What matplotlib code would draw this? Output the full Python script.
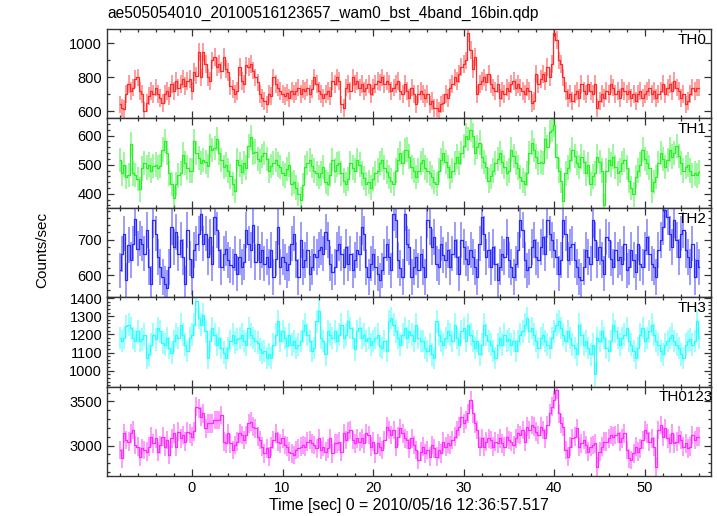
import numpy as np
import matplotlib
matplotlib.use("Agg")
import matplotlib.pyplot as plt
from matplotlib.ticker import MultipleLocator

plt.rcParams['font.family'] = ['Liberation Sans', 'DejaVu Sans']

# time bins (s), 0.25 s resolution
t_start, t_step, n_pts = -8.0, 0.25, 257

th0 = [
    640, 620, 615, 700, 760, 720, 740, 790, 800, 720, 700, 600, 650, 690, 720, 700,
    740, 700, 680, 650, 700, 720, 690, 760, 720, 780, 740, 760, 790, 750, 780, 790,
    720, 830, 810, 950, 800, 950, 880, 800, 780, 900, 920, 860, 880, 840, 920, 850,
    830, 750, 730, 700, 720, 860, 780, 760, 870, 860, 880, 840, 800, 770, 700, 680,
    660, 640, 700, 690, 800, 760, 740, 720, 700, 690, 710, 680, 720, 700, 720, 740,
    700, 730, 720, 740, 700, 730, 800, 760, 720, 700, 680, 700, 720, 690, 780, 760,
    800, 780, 640, 620, 740, 760, 720, 800, 760, 780, 740, 760, 720, 740, 760, 700,
    740, 760, 780, 770, 800, 760, 780, 760, 720, 740, 760, 780, 720, 700, 760, 720,
    680, 740, 700, 640, 700, 720, 700, 680, 700, 640, 660, 620, 620, 600, 640, 650,
    700, 680, 740, 760, 800, 780, 820, 860, 880, 900, 1060, 960, 850, 920, 700, 760,
    780, 800, 770, 820, 760, 740, 720, 760, 680, 720, 700, 740, 720, 760, 780, 740,
    760, 740, 720, 700, 740, 720, 650, 660, 820, 760, 790, 820, 780, 860, 800, 880,
    1060, 1020, 900, 880, 800, 720, 680, 700, 660, 700, 720, 680, 760, 720, 700, 760,
    720, 700, 760, 620, 660, 700, 680, 720, 700, 760, 740, 700, 720, 680, 740, 720,
    700, 720, 680, 700, 660, 700, 720, 680, 700, 720, 740, 700, 720, 680, 700, 720,
    760, 700, 740, 760, 720, 780, 740, 720, 680, 700, 640, 660, 700, 740, 720, 740,
    740]

th1 = [
    517, 470, 500, 457, 465, 570, 470, 465, 450, 415, 487, 505, 490, 500, 480, 495,
    500, 490, 495, 552, 582, 540, 470, 433, 385, 433, 463, 470, 535, 505, 490, 480,
    480, 582, 540, 523, 505, 517, 510, 495, 564, 550, 558, 588, 540, 517, 493, 500,
    480, 460, 433, 410, 517, 500, 475, 505, 490, 564, 594, 540, 545, 520, 511, 530,
    540, 520, 480, 495, 505, 517, 500, 493, 470, 463, 485, 500, 433, 440, 421, 400,
    380, 430, 493, 505, 517, 495, 480, 470, 457, 470, 493, 440, 433, 465, 517, 480,
    500, 505, 470, 445, 433, 450, 505, 490, 480, 517, 500, 470, 455, 433, 440, 421,
    450, 470, 480, 505, 517, 490, 475, 457, 445, 433, 480, 517, 540, 505, 550, 552,
    528, 493, 480, 457, 480, 505, 517, 490, 480, 470, 457, 440, 433, 480, 517, 540,
    510, 493, 457, 480, 505, 528, 505, 540, 564, 600, 588, 620, 600, 540, 560, 576,
    528, 510, 493, 445, 460, 480, 505, 520, 540, 510, 493, 470, 480, 552, 530, 505,
    490, 457, 445, 433, 470, 540, 576, 550, 528, 505, 510, 505, 588, 560, 612, 620,
    636, 528, 480, 445, 374, 470, 490, 517, 552, 530, 505, 493, 528, 510, 470, 500,
    433, 460, 470, 528, 510, 480, 362, 480, 517, 500, 528, 493, 470, 480, 505, 517,
    490, 445, 420, 398, 457, 480, 500, 552, 520, 505, 490, 410, 440, 457, 505, 540,
    520, 493, 517, 552, 528, 540, 564, 530, 505, 480, 493, 500, 480, 463, 470, 463,
    475]

th2 = [
    614, 660, 717, 586, 684, 642, 689, 759, 675, 703, 689, 661, 726, 623, 577, 754,
    717, 651, 623, 595, 577, 565, 623, 736, 679, 722, 661, 698, 651, 577, 726, 647,
    595, 670, 689, 717, 773, 689, 717, 651, 707, 633, 764, 726, 670, 623, 661, 675,
    642, 628, 623, 661, 605, 651, 623, 637, 726, 689, 670, 740, 637, 689, 637, 670,
    633, 651, 623, 670, 595, 647, 736, 623, 651, 637, 614, 633, 689, 717, 642, 595,
    698, 623, 642, 670, 605, 623, 661, 651, 670, 679, 661, 722, 698, 633, 609, 623,
    670, 689, 661, 623, 679, 633, 661, 614, 642, 670, 661, 736, 717, 623, 595, 633,
    661, 623, 605, 586, 614, 651, 689, 651, 614, 773, 754, 642, 620, 595, 773, 689,
    679, 595, 623, 651, 614, 661, 623, 595, 754, 736, 679, 707, 633, 623, 689, 656,
    642, 670, 623, 661, 698, 651, 605, 698, 679, 647, 633, 670, 651, 623, 595, 689,
    764, 717, 651, 670, 623, 679, 633, 586, 623, 661, 651, 707, 642, 623, 595, 633,
    670, 754, 726, 642, 614, 623, 679, 698, 651, 642, 679, 707, 661, 754, 717, 698,
    670, 651, 605, 642, 754, 717, 642, 679, 689, 642, 623, 595, 586, 623, 670, 651,
    633, 754, 698, 642, 679, 642, 605, 707, 698, 647, 623, 670, 642, 651, 633, 689,
    614, 623, 670, 642, 609, 689, 633, 623, 670, 707, 661, 633, 623, 595, 670, 698,
    736, 782, 764, 717, 679, 754, 698, 651, 717, 726, 670, 651, 623, 689, 595, 642,
    623]

th3 = [
    1181, 1163, 1181, 1245, 1254, 1236, 1181, 1163, 1217, 1163, 1172, 1199, 1071, 1090, 1144, 1199,
    1172, 1236, 1217, 1154, 1144, 1181, 1126, 1099, 1163, 1199, 1181, 1254, 1199, 1144, 1108, 1181,
    1199, 1254, 1382, 1290, 1254, 1309, 1217, 1071, 1163, 1236, 1199, 1144, 1181, 1126, 1099, 1071,
    1126, 1163, 1199, 1154, 1172, 1181, 1199, 1163, 1144, 1236, 1199, 1181, 1163, 1154, 1117, 1099,
    1108, 1071, 1090, 1071, 1144, 1199, 1272, 1163, 1217, 1181, 1135, 1199, 1144, 1163, 1126, 1144,
    1163, 1217, 1254, 1199, 1163, 1108, 1126, 1272, 1327, 1181, 1163, 1090, 1217, 1199, 1181, 1217,
    1163, 1199, 1254, 1181, 1199, 1272, 1236, 1181, 1117, 1217, 1236, 1181, 1199, 1163, 1181, 1144,
    1163, 1181, 1199, 1135, 1126, 1163, 1108, 1272, 1290, 1254, 1217, 1181, 1144, 1199, 1236, 1181,
    1217, 1199, 1163, 1254, 1181, 1163, 1163, 1126, 1108, 1144, 1090, 1071, 1272, 1199, 1163, 1144,
    1181, 1217, 1199, 1163, 1254, 1181, 1144, 1217, 1236, 1163, 1254, 1199, 1163, 1126, 1163, 1090,
    1144, 1254, 1199, 1163, 1144, 1108, 1071, 1144, 1181, 1144, 1199, 1163, 1172, 1144, 1163, 1108,
    1163, 1199, 1217, 1254, 1290, 1217, 1236, 1199, 1163, 1126, 1181, 1199, 1163, 1144, 1126, 1181,
    1217, 1254, 1272, 1236, 1199, 1163, 1217, 1181, 1144, 1126, 1090, 1254, 1199, 1144, 1163, 1126,
    1090, 1144, 980, 1181, 1163, 1217, 1181, 1126, 1108, 1163, 1254, 1217, 1181, 1144, 1181, 1199,
    1236, 1163, 1144, 1108, 1071, 1126, 1199, 1236, 1163, 1181, 1217, 1254, 1199, 1163, 1144, 1108,
    1090, 1144, 1163, 1181, 1199, 1163, 1144, 1126, 1090, 1071, 1144, 1163, 1172, 1144, 1163, 1272,
    1181]

th0123 = [
    2951, 2857, 3139, 3064, 3045, 3139, 3177, 3007, 2989, 2876, 2970, 2951, 2932, 2989, 3101, 3026,
    3083, 2932, 3007, 3101, 2989, 3064, 2895, 3083, 3139, 2989, 3158, 3083, 3120, 3045, 3158, 3139,
    3101, 3160, 3440, 3421, 3327, 3365, 3195, 3252, 3252, 3252, 3289, 3289, 3289, 3346, 3045, 3026,
    3139, 3026, 2951, 3007, 3045, 3139, 3120, 3064, 3120, 3252, 3271, 3214, 3195, 3101, 3064, 2989,
    2913, 2970, 2876, 2989, 3064, 3139, 3045, 3026, 3083, 3007, 2989, 2932, 2913, 2895, 2951, 2970,
    2989, 3007, 2989, 3045, 3064, 3026, 3007, 2970, 3083, 2951, 2989, 2932, 2970, 3083, 2913, 3026,
    3026, 3045, 2932, 3139, 3064, 3158, 3177, 3064, 3026, 3083, 3045, 3083, 3026, 3139, 3120, 2989,
    3045, 2913, 3026, 2989, 2951, 3064, 3214, 3177, 3120, 3177, 2989, 3101, 3195, 3139, 3083, 3064,
    2970, 3083, 3007, 2951, 2838, 2932, 2989, 2913, 2951, 2876, 3007, 2970, 2876, 2951, 2913, 3045,
    2989, 3026, 3007, 3064, 3101, 3177, 3214, 3327, 3252, 3289, 3365, 3515, 3365, 3252, 3177, 2989,
    3083, 2989, 3045, 3083, 3064, 2989, 3045, 3026, 3083, 3026, 2989, 3101, 3064, 3045, 3007, 3083,
    3139, 3120, 3177, 3045, 3214, 3177, 3233, 3214, 3158, 3120, 3214, 3177, 3083, 3233, 3365, 3440,
    3515, 3628, 3365, 3252, 3214, 2951, 2876, 2989, 3083, 3101, 3195, 2989, 3026, 3064, 3007, 2932,
    2989, 3007, 3026, 2763, 2932, 2989, 3045, 3045, 3083, 3120, 3101, 3120, 3139, 3045, 3083, 3139,
    2951, 2857, 2838, 2913, 2989, 2932, 2970, 3064, 3177, 3139, 3045, 3083, 2989, 2763, 3177, 3233,
    3101, 3195, 3083, 3026, 3139, 3026, 3045, 3120, 3064, 2989, 3026, 2970, 2989, 3120, 3064, 3101,
    3101]

series = [th0, th1, th2, th3, th0123]
labels = ["TH0", "TH1", "TH2", "TH3", "TH0123"]
errors = [52, 42, 50, 62, 105]
colors = ["#ff2a2a", "#2af02a", "#2a2aff", "#2affff", "#ff2aff"]
ylims = [(558, 1085), (352, 659), (539, 789), (912, 1405), (2656, 3667)]
ymajor = [200, 100, 100, 100, 500]
yminor = [100, 20, 20, 20, 100]

title = "ae505054010_20100516123657_wam0_bst_4band_16bin.qdp"
xlabel = "Time [sec] 0 = 2010/05/16 12:36:57.517"
ylabel = "Counts/sec"

W, H = 717, 516
fig = plt.figure(figsize=(W / 100, H / 100), dpi=100)

left_px, right_px = 107, 711
top_px, bot_px = 29, 476
ph = (bot_px - top_px) / 5

t = t_start + t_step * np.arange(n_pts)

axes = []
for i in range(5):
    y0 = top_px + i * ph
    ax = fig.add_axes([left_px / W, 1 - (y0 + ph) / H, (right_px - left_px) / W, ph / H])
    axes.append(ax)
    v = np.array(series[i], dtype=float)
    c = colors[i]
    ax.errorbar(t, v, yerr=errors[i], fmt='none', ecolor=c, elinewidth=1.3, alpha=0.5, capsize=0)
    ax.step(t, v, where='mid', color=c, lw=0.9)
    ax.set_xlim(-9.38, 57.3)
    ax.set_ylim(*ylims[i])
    ax.xaxis.set_major_locator(MultipleLocator(10))
    ax.xaxis.set_minor_locator(MultipleLocator(2))
    ax.yaxis.set_major_locator(MultipleLocator(ymajor[i]))
    ax.yaxis.set_minor_locator(MultipleLocator(yminor[i]))
    ax.tick_params(which='both', direction='in', top=True, right=True, labelsize=10.5,
                   color='#333333', width=0.9)
    ax.tick_params(which='major', length=5)
    ax.tick_params(which='minor', length=2.5)
    for s in ax.spines.values():
        s.set_linewidth(1.0)
        s.set_color('#333333')
    if i < 4:
        ax.tick_params(labelbottom=False)
    ax.text(0.992 if i < 4 else 1.004, 0.88, labels[i], transform=ax.transAxes,
            ha='right', va='center', fontsize=11, clip_on=False)

axes[3].set_yticks([1000, 1100, 1200, 1300, 1400])
axes[4].set_yticks([3000, 3500])
axes[4].set_xlabel(xlabel, fontsize=11.4, labelpad=2)
fig.text(left_px / W, 1 - 13 / H, title, ha='left', va='center', fontsize=11.2)
fig.text(42 / W, 1 - 250 / H, ylabel, rotation=90, ha='center', va='center', fontsize=11)

fig.savefig("out.png", dpi=100)
